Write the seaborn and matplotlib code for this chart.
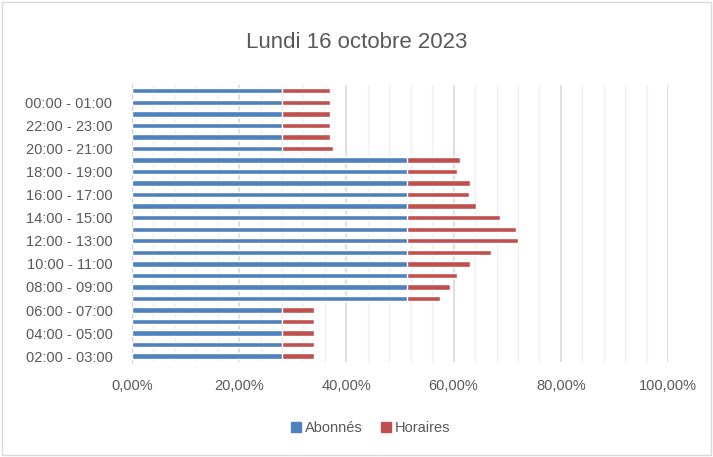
import pandas as pd
import numpy as np
import matplotlib
matplotlib.use('Agg')
import matplotlib.pyplot as plt
import seaborn as sns
from matplotlib.patches import Rectangle, Patch
from matplotlib.ticker import MultipleLocator, FuncFormatter

# hours from bottom to top
hours = ['02:00 - 03:00', '03:00 - 04:00', '04:00 - 05:00', '05:00 - 06:00',
         '06:00 - 07:00', '07:00 - 08:00', '08:00 - 09:00', '09:00 - 10:00',
         '10:00 - 11:00', '11:00 - 12:00', '12:00 - 13:00', '13:00 - 14:00',
         '14:00 - 15:00', '15:00 - 16:00', '16:00 - 17:00', '17:00 - 18:00',
         '18:00 - 19:00', '19:00 - 20:00', '20:00 - 21:00', '21:00 - 22:00',
         '22:00 - 23:00', '23:00 - 00:00', '00:00 - 01:00', '01:00 - 02:00']
abonnes = [28.0, 28.0, 28.0, 28.0, 28.0,
           51.3, 51.3, 51.3, 51.3, 51.3, 51.3, 51.3, 51.3,
           51.3, 51.3, 51.3, 51.3, 51.3,
           28.0, 28.0, 28.0, 28.0, 28.0, 28.0]
horaires = [6.0, 6.0, 6.0, 6.0, 6.0,
            6.2, 8.0, 9.4, 11.7, 15.6, 20.8, 20.4, 17.4,
            12.9, 11.5, 11.8, 9.4, 9.9,
            9.5, 9.0, 8.9, 8.9, 8.9, 8.9]

df = pd.DataFrame({'heure': hours, 'Abonnés': abonnes, 'Horaires': horaires})
df['total'] = df['Abonnés'] + df['Horaires']
order = hours[::-1]

blue = '#4F81BD'
red = '#C0504D'
grey = '#595959'

sns.set_style('white')
plt.rcParams['font.family'] = ['Liberation Sans', 'DejaVu Sans']

fig = plt.figure(figsize=(7.13, 4.57), dpi=100)
ax = fig.add_axes([0.185, 0.208, 0.752, 0.606])

sns.barplot(x='total', y='heure', data=df, order=order, color=red,
            width=0.47, saturation=1, ax=ax, zorder=3)
sns.barplot(x='Abonnés', y='heure', data=df, order=order, color=blue,
            width=0.47, saturation=1, ax=ax, zorder=4)

ax.set_xlim(0, 100)
ax.set_ylim(23.5, -0.5)
ax.xaxis.set_major_locator(MultipleLocator(20))
ax.xaxis.set_minor_locator(MultipleLocator(4))
ax.xaxis.set_major_formatter(FuncFormatter(lambda v, p: f'{v:.2f}'.replace('.', ',') + '%'))
ax.grid(axis='x', which='major', color='#d9d9d9', linewidth=1.2, zorder=0)
ax.grid(axis='x', which='minor', color='#efefef', linewidth=1.0, zorder=0)
ax.set_axisbelow(True)

ax.set_yticks(range(len(order)))
labels = [lab if (len(order) - 1 - i) % 2 == 0 else '' for i, lab in enumerate(order)]
ax.set_yticklabels(labels)
ax.tick_params(axis='y', length=0, labelsize=10.5, labelcolor=grey, pad=14)
ax.tick_params(axis='x', length=0, labelsize=10.5, labelcolor=grey, pad=12)
ax.set_xlabel('')
ax.set_ylabel('')
for s in ['top', 'right', 'bottom']:
    ax.spines[s].set_visible(False)
ax.spines['left'].set_color('#d0d0d0')

fig.text(0.5, 0.906, 'Lundi 16 octobre 2023', ha='center', va='center',
         fontsize=16, color=grey)

handles = [Patch(color=blue, label='Abonnés'), Patch(color=red, label='Horaires')]
fig.legend(handles=handles, loc='center', bbox_to_anchor=(0.52, 0.063), ncol=2,
           frameon=False, fontsize=10.5, labelcolor=grey, handlelength=0.7,
           handleheight=0.7, handletextpad=0.3, columnspacing=1.2)

fig.patches.append(Rectangle((0.003, 0.004), 0.994, 0.992, transform=fig.transFigure,
                             fill=False, edgecolor='#d9d9d9', linewidth=1))

fig.savefig('out.png', dpi=100, facecolor='white')
